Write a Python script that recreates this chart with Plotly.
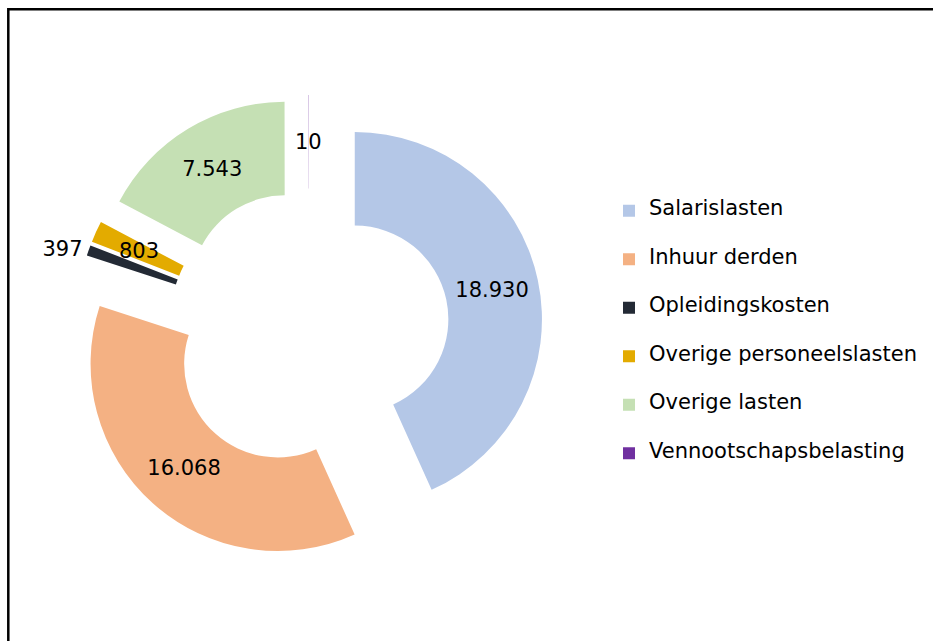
import math
import plotly.graph_objects as go

categories = ["Salarislasten", "Inhuur derden", "Opleidingskosten",
              "Overige personeelslasten", "Overige lasten", "Vennootschapsbelasting"]
values = [18930, 16068, 397, 803, 7543, 10]
value_labels = ["18.930", "16.068", "397", "803", "7.543", "10"]
colors = ["#B4C7E7", "#F4B183", "#232A35", "#E3AB00", "#C5E0B4", "#7030A0"]
# slices whose label is drawn inside by plotly, outside, or as a mid-ring note
text_positions = ["inside", "inside", "outside", "none", "inside", "none"]

W, H = 933, 641
FONT = "DejaVu Sans"
HOLE = 0.5
PULL = 0.25
DOM_X = [75 / W, 543 / W]
DOM_Y = [1 - 563 / H, 1 - 95 / H]

legend_labels = ["<br><span style='font-size:21px'>%s</span><br>" % c for c in categories]

fig = go.Figure()
fig.add_trace(go.Pie(
    labels=legend_labels,
    values=values,
    text=value_labels,
    textinfo="text",
    textposition=text_positions,
    insidetextorientation="horizontal",
    insidetextfont=dict(family=FONT, size=21, color="#000000"),
    outsidetextfont=dict(family=FONT, size=21, color="#000000"),
    hole=HOLE,
    pull=[PULL] * len(values),
    sort=False,
    direction="clockwise",
    rotation=0,
    marker=dict(colors=colors, line=dict(width=0)),
    domain=dict(x=DOM_X, y=DOM_Y),
    hoverinfo="skip",
))

# mid-ring labels for the thin slices, placed on each slice's bisector
cx = (DOM_X[0] + DOM_X[1]) / 2 * W
cy = (1 - (DOM_Y[0] + DOM_Y[1]) / 2) * H
R = min((DOM_X[1] - DOM_X[0]) * W, (DOM_Y[1] - DOM_Y[0]) * H) / (2 * (1 + PULL))
total = sum(values)
annotations = []
cum = 0.0
for v, lab, pos in zip(values, value_labels, text_positions):
    mid = (cum + v / 2) / total * 2 * math.pi
    cum += v
    if pos != "none":
        continue
    rr = (PULL + (1 + HOLE) / 2) * R
    px = cx + rr * math.sin(mid)
    py = cy - rr * math.cos(mid)
    annotations.append(dict(x=px / W, y=1 - py / H, xref="paper", yref="paper",
                            text=lab, showarrow=False, xanchor="center", yanchor="middle",
                            font=dict(family=FONT, size=21, color="#000000")))

fig.update_layout(
    width=W, height=H,
    margin=dict(l=0, r=0, t=0, b=0, autoexpand=False),
    paper_bgcolor="white", plot_bgcolor="white",
    uniformtext=dict(mode="show", minsize=21),
    showlegend=True,
    legend=dict(
        x=609 / W, xanchor="left",
        y=1 - 332.5 / H, yanchor="middle",
        font=dict(family=FONT, size=11.67, color="#000000"),
        bgcolor="rgba(0,0,0,0)",
        traceorder="normal",
    ),
    annotations=annotations,
    shapes=[dict(type="rect", xref="paper", yref="paper",
                 x0=8.3 / W, x1=1.05, y0=-0.05, y1=1 - 9.3 / H,
                 line=dict(color="#000000", width=2.5), fillcolor="rgba(0,0,0,0)")],
)

fig.write_html("out.html", config={"displayModeBar": False},
               post_script="document.body.style.margin='0px';")
